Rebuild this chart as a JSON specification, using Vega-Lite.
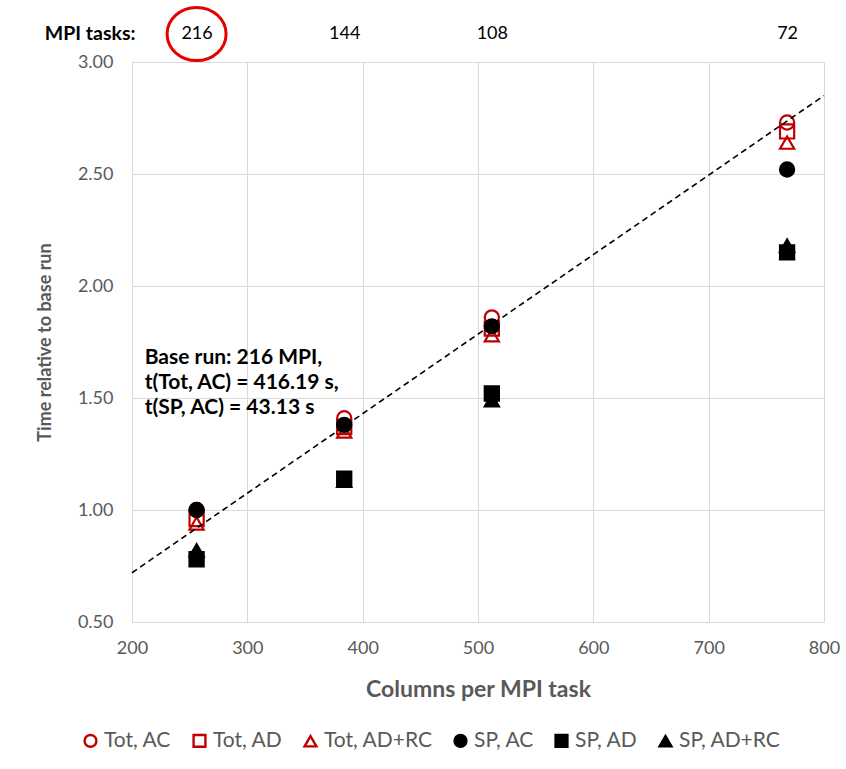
{
  "$schema": "https://vega.github.io/schema/vega-lite/v6.json",
  "width": 692,
  "height": 560,
  "autosize": {"type": "none"},
  "padding": {"left": 132, "top": 62, "right": 22, "bottom": 147},
  "background": "white",
  "config": {
    "font": "Lato",
    "view": {"stroke": null},
    "axis": {"labelFlush": false, "labelOverlap": false}
  },
  "resolve": {"axis": {"x": "independent"}},
  "layer": [
    {
      "data": {"values": [
        {"cols": 256, "time": 1.00, "series": "Tot, AC"},
        {"cols": 384, "time": 1.41, "series": "Tot, AC"},
        {"cols": 512, "time": 1.86, "series": "Tot, AC"},
        {"cols": 768, "time": 2.73, "series": "Tot, AC"},
        {"cols": 256, "time": 0.96, "series": "Tot, AD"},
        {"cols": 384, "time": 1.37, "series": "Tot, AD"},
        {"cols": 512, "time": 1.81, "series": "Tot, AD"},
        {"cols": 768, "time": 2.69, "series": "Tot, AD"},
        {"cols": 256, "time": 0.94, "series": "Tot, AD+RC"},
        {"cols": 384, "time": 1.35, "series": "Tot, AD+RC"},
        {"cols": 512, "time": 1.78, "series": "Tot, AD+RC"},
        {"cols": 768, "time": 2.64, "series": "Tot, AD+RC"},
        {"cols": 256, "time": 1.00, "series": "SP, AC"},
        {"cols": 384, "time": 1.38, "series": "SP, AC"},
        {"cols": 512, "time": 1.82, "series": "SP, AC"},
        {"cols": 768, "time": 2.52, "series": "SP, AC"},
        {"cols": 256, "time": 0.78, "series": "SP, AD"},
        {"cols": 384, "time": 1.14, "series": "SP, AD"},
        {"cols": 512, "time": 1.52, "series": "SP, AD"},
        {"cols": 768, "time": 2.15, "series": "SP, AD"},
        {"cols": 256, "time": 0.82, "series": "SP, AD+RC"},
        {"cols": 384, "time": 1.13, "series": "SP, AD+RC"},
        {"cols": 512, "time": 1.49, "series": "SP, AD+RC"},
        {"cols": 768, "time": 2.18, "series": "SP, AD+RC"}
      ]},
      "mark": {"type": "point", "size": 200, "strokeWidth": 2.2, "opacity": 1},
      "encoding": {
        "x": {
          "field": "cols", "type": "quantitative",
          "scale": {"domain": [200, 800], "nice": false, "zero": false},
          "axis": {
            "orient": "bottom", "values": [200, 300, 400, 500, 600, 700, 800],
            "grid": true, "gridColor": "#d9d9d9", "domainColor": "#d9d9d9", "ticks": false,
            "labelFontSize": 18, "labelColor": "#595959", "labelPadding": 17,
            "title": "Columns per MPI task", "titleFontSize": 23, "titleFontWeight": "bold",
            "titleColor": "#595959", "titlePadding": 21
          }
        },
        "y": {
          "field": "time", "type": "quantitative",
          "scale": {"domain": [0.5, 3.0], "nice": false, "zero": false},
          "axis": {
            "values": [0.5, 1.0, 1.5, 2.0, 2.5, 3.0], "format": ".2f",
            "grid": true, "gridColor": "#d9d9d9", "domainColor": "#d9d9d9", "ticks": false,
            "labelFontSize": 18, "labelColor": "#595959", "labelPadding": 19,
            "title": "Time relative to base run", "titleFontSize": 18, "titleFontWeight": "bold",
            "titleColor": "#595959", "titlePadding": 23
          }
        },
        "shape": {
          "field": "series", "type": "nominal",
          "scale": {
            "domain": ["Tot, AC", "Tot, AD", "Tot, AD+RC", "SP, AC", "SP, AD", "SP, AD+RC"],
            "range": ["circle", "square", "triangle-up", "circle", "square", "triangle-up"]
          },
          "legend": {
            "title": null, "orient": "none", "direction": "horizontal", "legendX": -52, "legendY": 668,
            "columns": 6, "columnPadding": 16, "labelFontSize": 21, "labelColor": "#595959",
            "symbolSize": 140, "symbolStrokeWidth": 2.4, "labelOffset": 3
          }
        },
        "stroke": {
          "field": "series", "type": "nominal",
          "scale": {
            "domain": ["Tot, AC", "Tot, AD", "Tot, AD+RC", "SP, AC", "SP, AD", "SP, AD+RC"],
            "range": ["#c00000", "#c00000", "#c00000", "black", "black", "black"]
          },
          "legend": {
            "title": null, "orient": "none", "direction": "horizontal", "legendX": -52, "legendY": 668,
            "columns": 6, "columnPadding": 16, "labelFontSize": 21, "labelColor": "#595959",
            "symbolSize": 140, "symbolStrokeWidth": 2.4, "labelOffset": 3
          }
        },
        "fill": {
          "field": "series", "type": "nominal",
          "scale": {
            "domain": ["Tot, AC", "Tot, AD", "Tot, AD+RC", "SP, AC", "SP, AD", "SP, AD+RC"],
            "range": ["transparent", "transparent", "transparent", "black", "black", "black"]
          },
          "legend": {
            "title": null, "orient": "none", "direction": "horizontal", "legendX": -52, "legendY": 668,
            "columns": 6, "columnPadding": 16, "labelFontSize": 21, "labelColor": "#595959",
            "symbolSize": 140, "symbolStrokeWidth": 2.4, "labelOffset": 3
          }
        }
      }
    },
    {
      "data": {"values": [
        {"cols": 200, "time": 0.72},
        {"cols": 800, "time": 2.85}
      ]},
      "mark": {"type": "line", "color": "black", "strokeWidth": 1.6, "strokeDash": [6, 4]},
      "encoding": {
        "x": {
          "field": "cols", "type": "quantitative",
          "axis": {
            "orient": "top", "values": [256, 384, 512, 768],
            "labelExpr": "format(55296 / datum.value, 'd')",
            "grid": false, "domain": false, "ticks": false,
            "labelFontSize": 18, "labelColor": "black", "labelPadding": 20,
            "title": "MPI tasks:", "titleFontSize": 19.5, "titleFontWeight": "bold", "titleColor": "black",
            "titleAlign": "right", "titleAngle": 0, "titleBaseline": "middle", "titleX": 3, "titleY": -29
          }
        },
        "y": {"field": "time", "type": "quantitative"}
      }
    },
    {
      "data": {"values": [
        {"note": "Base run: 216 MPI,\nt(Tot, AC) = 416.19 s,\nt(SP, AC) = 43.13 s"}
      ]},
      "mark": {"type": "text", "align": "left", "baseline": "middle", "fontSize": 21, "fontWeight": "bold",
               "lineHeight": 25, "lineBreak": "\n", "color": "black"},
      "encoding": {
        "x": {"datum": 211, "type": "quantitative", "axis": null},
        "y": {"datum": 1.68, "type": "quantitative"},
        "text": {"field": "note", "type": "nominal"}
      }
    },
    {
      "data": {"values": [{"label": "216"}]},
      "mark": {"type": "point", "shape": "M-1,0A1,0.9 0 1,1 1,0A1,0.9 0 1,1 -1,0Z",
               "size": 3481, "stroke": "#e60000", "strokeWidth": 3, "fill": "transparent",
               "filled": false, "opacity": 1, "yOffset": -28},
      "encoding": {
        "x": {"datum": 256, "type": "quantitative", "axis": null},
        "y": {"datum": 3.0, "type": "quantitative"}
      }
    }
  ]
}
